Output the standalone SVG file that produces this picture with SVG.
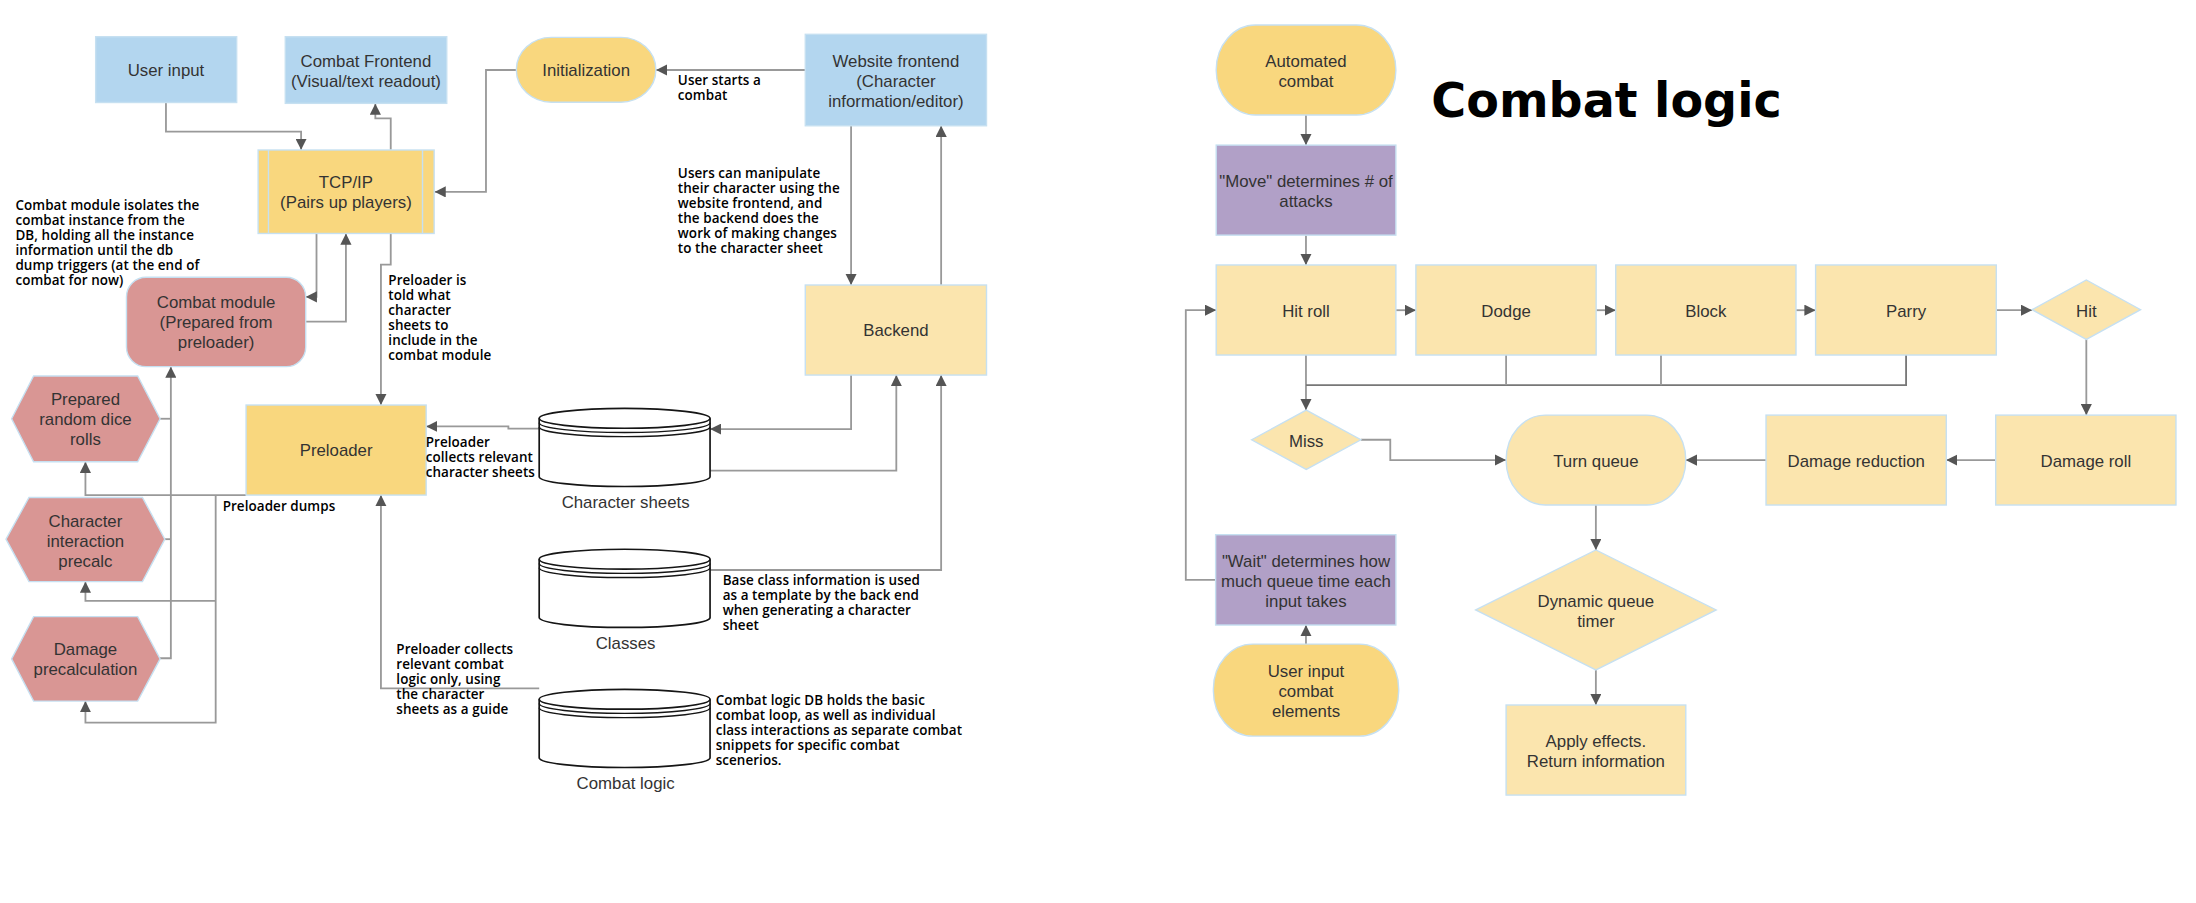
<svg xmlns="http://www.w3.org/2000/svg" width="2196" height="903" viewBox="0 0 2196 903">
<defs>
<marker id="arr" viewBox="0 0 10 10" refX="10" refY="5" markerWidth="8" markerHeight="8" markerUnits="userSpaceOnUse" orient="auto">
<path d="M0,0 L10,5 L0,10 z" fill="#555"/>
</marker>
<style>
.blue{fill:#b3d6ef;stroke:#c6e0f1;stroke-width:1}
.yel{fill:#f9d77e;stroke:#c6e0f1;stroke-width:1}
.lyel{fill:#fbe5ae;stroke:#c6e0f1;stroke-width:1}
.pur{fill:#b1a0c7;stroke:#c6e0f1;stroke-width:1}
.sal{fill:#d99694;stroke:#c6e0f1;stroke-width:1}
.cyl{fill:#fff;stroke:#151515;stroke-width:1.2}
.cyln{fill:none;stroke:#151515;stroke-width:1}
.n{font-family:"Liberation Sans",Arial,sans-serif;font-size:12px;fill:#333;text-anchor:middle}
.a{font-family:"Open Sans","Liberation Sans",sans-serif;font-weight:600;font-size:9.6px;letter-spacing:0.05px;fill:#000}
.t{font-family:"DejaVu Sans",sans-serif;font-weight:bold;font-size:34px;fill:#000}
.c path{fill:none;stroke:#999;stroke-width:1.3}
.c path.m{marker-end:url(#arr)}
</style>
</defs>
<rect width="2196" height="903" fill="#fff"/>
<g transform="scale(1.4005)">

<g id="connectors" class="c">
<path class="m" d="M118.5,73 V94 H215 V107"/>
<path class="m" d="M279,107 V84.5 H268 V74"/>
<path class="m" d="M369,50 H347 V137 H310.3"/>
<path class="m" d="M575,50 H468.5"/>
<path class="m" d="M607.7,89.8 V203.5"/>
<path class="m" d="M672,203.5 V89.8"/>
<path class="m" d="M226,166.7 V212 H218.3"/>
<path class="m" d="M218.3,229.7 H247 V166.7"/>
<path class="m" d="M279,166.7 V189 H272 V289.2"/>
<path class="m" d="M385,306 H363 V304.5 H304.3"/>
<path class="m" d="M607.7,267.8 V306.4 H507"/>
<path class="m" d="M507,336 H640 V267.8"/>
<path class="m" d="M507,407 H672 V267.8"/>
<path class="m" d="M385,491.5 H272 V353.5"/>
<path class="m" d="M175.7,353.5 H61 V329.7"/>
<path class="m" d="M154,353.5 V516 H61 V500.6"/>
<path class="m" d="M154,429 H61 V415.3"/>
<path d="M114.3,299 H122"/>
<path d="M117.7,385 H122"/>
<path class="m" d="M114.3,470 H122 V261.8"/>

<path class="m" d="M932.5,82.1 V103.6"/>
<path class="m" d="M932.5,167.9 V189.2"/>
<path class="m" d="M996.7,221.5 H1011"/>
<path class="m" d="M1139.7,221.5 H1153.7"/>
<path class="m" d="M1282.4,221.5 H1296.4"/>
<path class="m" d="M1425.4,221.5 H1451"/>
<path class="m" d="M1489.7,242.3 V296.4"/>
<path class="m" d="M1425,328.5 H1389.7"/>
<path class="m" d="M1261,328.5 H1203.7"/>
<path class="m" d="M932.5,253.5 V292.8"/>
<path d="M932.5,275 H1361 V253.5" style="stroke:#777"/>
<path d="M1075.4,253.5 V275"/>
<path d="M1186,253.5 V275"/>
<path class="m" d="M971.7,314 H992.7 V328.5 H1075.4"/>
<path class="m" d="M1139.5,360.6 V392.7"/>
<path class="m" d="M1139.5,478.4 V503.4"/>
<path class="m" d="M868,414 H846.7 V221.5 H868.4"/>
<path class="m" d="M932.5,459.9 V446.3"/>
</g>

<g id="user-input">
<rect class="blue" x="68.3" y="26.2" width="100.7" height="47"/>
<text class="n" x="118.5" y="54.3">User input</text>
</g>
<g id="combat-frontend">
<rect class="blue" x="203.7" y="26.2" width="115.3" height="47.6"/>
<text class="n" x="261.3" y="47.6">Combat Frontend</text>
<text class="n" x="261.3" y="61.9">(Visual/text readout)</text>
</g>
<g id="initialization">
<rect class="yel" x="368.7" y="26.7" width="99.6" height="46.3" rx="25" ry="23"/>
<text class="n" x="418.5" y="54.3">Initialization</text>
</g>
<g id="website-frontend">
<rect class="blue" x="575" y="24.5" width="129.4" height="65.3"/>
<text class="n" x="639.7" y="47.6">Website frontend</text>
<text class="n" x="639.7" y="61.9">(Character</text>
<text class="n" x="639.7" y="76.2">information/editor)</text>
</g>
<g id="tcp-ip">
<rect class="yel" x="184.3" y="107.1" width="125.7" height="59.6"/>
<path d="M191.7,107.1 V166.7 M301.7,107.1 V166.7" stroke="#c6e0f1" stroke-width="1" fill="none"/>
<text class="n" x="247" y="134.1">TCP/IP</text>
<text class="n" x="247" y="148.3">(Pairs up players)</text>
</g>
<g id="combat-module">
<rect class="sal" x="90.3" y="198" width="128" height="63.8" rx="14" ry="14"/>
<text class="n" x="154.3" y="220.2">Combat module</text>
<text class="n" x="154.3" y="234.5">(Prepared from</text>
<text class="n" x="154.3" y="248.8">preloader)</text>
</g>
<g id="prepared-dice">
<polygon class="sal" points="8.3,299 24,268.5 98.3,268.5 114.3,299 98.3,329.7 24,329.7"/>
<text class="n" x="61" y="289.5">Prepared</text>
<text class="n" x="61" y="303.8">random dice</text>
<text class="n" x="61" y="318">rolls</text>
</g>
<g id="character-interaction">
<polygon class="sal" points="4.3,385 20.7,355.2 101.7,355.2 117.7,385 101.7,415.3 20.7,415.3"/>
<text class="n" x="61" y="376.1">Character</text>
<text class="n" x="61" y="390.3">interaction</text>
<text class="n" x="61" y="404.6">precalc</text>
</g>
<g id="damage-precalc">
<polygon class="sal" points="8.3,470.5 24,440.3 98.3,440.3 114.3,470.5 98.3,500.6 24,500.6"/>
<text class="n" x="61" y="468">Damage</text>
<text class="n" x="61" y="482.3">precalculation</text>
</g>
<g id="preloader">
<rect class="yel" x="175.7" y="289.2" width="128.6" height="64.3"/>
<text class="n" x="240" y="325.7">Preloader</text>
</g>
<g id="backend">
<rect class="lyel" x="575" y="203.5" width="129.4" height="64.3"/>
<text class="n" x="639.7" y="239.9">Backend</text>
</g>
<g id="character-sheets">
<path class="cyl" d="M385,298.7 V340.4 A61,7 0 0 0 507,340.4 V298.7"/>
<ellipse class="cyl" cx="446" cy="298.7" rx="61" ry="7.1"/>
<path class="cyln" d="M385,301.8 A61,7 0 0 0 507,301.8 M385,304.8 A61,7 0 0 0 507,304.8"/>
<text class="n" x="446.7" y="363">Character sheets</text>
</g>
<g id="classes">
<path class="cyl" d="M385,399.3 V441 A61,7 0 0 0 507,441 V399.3"/>
<ellipse class="cyl" cx="446" cy="399.3" rx="61" ry="7.1"/>
<path class="cyln" d="M385,402.4 A61,7 0 0 0 507,402.4 M385,405.4 A61,7 0 0 0 507,405.4"/>
<text class="n" x="446.7" y="463.2">Classes</text>
</g>
<g id="combat-logic-db">
<path class="cyl" d="M385,499.3 V541 A61,7 0 0 0 507,541 V499.3"/>
<ellipse class="cyl" cx="446" cy="499.3" rx="61" ry="7.1"/>
<path class="cyln" d="M385,502.4 A61,7 0 0 0 507,502.4 M385,505.4 A61,7 0 0 0 507,505.4"/>
<text class="n" x="446.7" y="563.2">Combat logic</text>
</g>

<g id="annotations">
<text class="a" x="484" y="60.4">User starts a</text>
<text class="a" x="484" y="71.2">combat</text>
<text class="a" x="484" y="127.1">Users can manipulate</text>
<text class="a" x="484" y="137.8">their character using the</text>
<text class="a" x="484" y="148.5">website frontend, and</text>
<text class="a" x="484" y="159.3">the backend does the</text>
<text class="a" x="484" y="170">work of making changes</text>
<text class="a" x="484" y="180.7">to the character sheet</text>
<text class="a" x="11" y="150.2">Combat module isolates the</text>
<text class="a" x="11" y="160.9">combat instance from the</text>
<text class="a" x="11" y="171.6">DB, holding all the instance</text>
<text class="a" x="11" y="182.1">information until the db</text>
<text class="a" x="11" y="193.1">dump triggers (at the end of</text>
<text class="a" x="11" y="203.5">combat for now)</text>
<text class="a" x="277.3" y="203.7">Preloader is</text>
<text class="a" x="277.3" y="214.4">told what</text>
<text class="a" x="277.3" y="225.1">character</text>
<text class="a" x="277.3" y="235.8">sheets to</text>
<text class="a" x="277.3" y="246.6">include in the</text>
<text class="a" x="277.3" y="257.3">combat module</text>
<text class="a" x="304" y="319.4">Preloader</text>
<text class="a" x="304" y="329.9">collects relevant</text>
<text class="a" x="304" y="340.6">character sheets</text>
<text class="a" x="159" y="365.1">Preloader dumps</text>
<text class="a" x="516" y="418">Base class information is used</text>
<text class="a" x="516" y="428.7">as a template by the back end</text>
<text class="a" x="516" y="439.4">when generating a character</text>
<text class="a" x="516" y="450.1">sheet</text>
<text class="a" x="283" y="467.2">Preloader collects</text>
<text class="a" x="283" y="477.9">relevant combat</text>
<text class="a" x="283" y="488.6">logic only, using</text>
<text class="a" x="283" y="499.3">the character</text>
<text class="a" x="283" y="510.1">sheets as a guide</text>
<text class="a" x="511" y="503.6">Combat logic DB holds the basic</text>
<text class="a" x="511" y="514.3">combat loop, as well as individual</text>
<text class="a" x="511" y="525.1">class interactions as separate combat</text>
<text class="a" x="511" y="535.8">snippets for specific combat</text>
<text class="a" x="511" y="546.5">scenerios.</text>
</g>

<text class="t" x="1022" y="83.3">Combat logic</text>

<g id="automated-combat">
<rect class="yel" x="868.4" y="17.9" width="128.3" height="64.2" rx="28" ry="32"/>
<text class="n" x="932.5" y="47.6">Automated</text>
<text class="n" x="932.5" y="61.9">combat</text>
</g>
<g id="move">
<rect class="pur" x="868.4" y="103.6" width="128.3" height="64.3"/>
<text class="n" x="932.5" y="133.3">"Move" determines # of</text>
<text class="n" x="932.5" y="147.6">attacks</text>
</g>
<g id="hit-roll">
<rect class="lyel" x="868.4" y="189.2" width="128.3" height="64.3"/>
<text class="n" x="932.5" y="226.1">Hit roll</text>
</g>
<g id="dodge">
<rect class="lyel" x="1011" y="189.2" width="128.7" height="64.3"/>
<text class="n" x="1075.4" y="226.1">Dodge</text>
</g>
<g id="block">
<rect class="lyel" x="1153.7" y="189.2" width="128.7" height="64.3"/>
<text class="n" x="1218" y="226.1">Block</text>
</g>
<g id="parry">
<rect class="lyel" x="1296.4" y="189.2" width="129" height="64.3"/>
<text class="n" x="1361" y="226.1">Parry</text>
</g>
<g id="hit">
<polygon class="lyel" points="1451,221.1 1489.7,199.9 1528.4,221.1 1489.7,242.3"/>
<text class="n" x="1489.7" y="226.1">Hit</text>
</g>
<g id="miss">
<polygon class="lyel" points="893.7,314 932.7,292.8 971.7,314 932.7,335.2"/>
<text class="n" x="932.7" y="319">Miss</text>
</g>
<g id="turn-queue">
<rect class="lyel" x="1075.4" y="296.4" width="128.3" height="64.2" rx="28" ry="32"/>
<text class="n" x="1139.5" y="333.3">Turn queue</text>
</g>
<g id="damage-reduction">
<rect class="lyel" x="1261" y="296.4" width="128.7" height="64.2"/>
<text class="n" x="1325.4" y="333.3">Damage reduction</text>
</g>
<g id="damage-roll">
<rect class="lyel" x="1425" y="296.4" width="128.7" height="64.2"/>
<text class="n" x="1489.4" y="333.3">Damage roll</text>
</g>
<g id="wait">
<rect class="pur" x="868" y="381.8" width="128.7" height="64.5"/>
<text class="n" x="932.5" y="404.7">"Wait" determines how</text>
<text class="n" x="932.5" y="419">much queue time each</text>
<text class="n" x="932.5" y="433.3">input takes</text>
</g>
<g id="user-input-combat">
<rect class="yel" x="866.4" y="459.9" width="132.3" height="65.7" rx="28" ry="32"/>
<text class="n" x="932.5" y="483.2">User input</text>
<text class="n" x="932.5" y="497.5">combat</text>
<text class="n" x="932.5" y="511.8">elements</text>
</g>
<g id="dynamic-queue-timer">
<polygon class="lyel" points="1053.7,435.5 1139.5,392.7 1225.4,435.5 1139.5,478.4"/>
<text class="n" x="1139.5" y="433.2">Dynamic queue</text>
<text class="n" x="1139.5" y="447.5">timer</text>
</g>
<g id="apply-effects">
<rect class="lyel" x="1075.4" y="503.4" width="128.3" height="64.3"/>
<text class="n" x="1139.5" y="533.2">Apply effects.</text>
<text class="n" x="1139.5" y="547.5">Return information</text>
</g>

</g>
</svg>
